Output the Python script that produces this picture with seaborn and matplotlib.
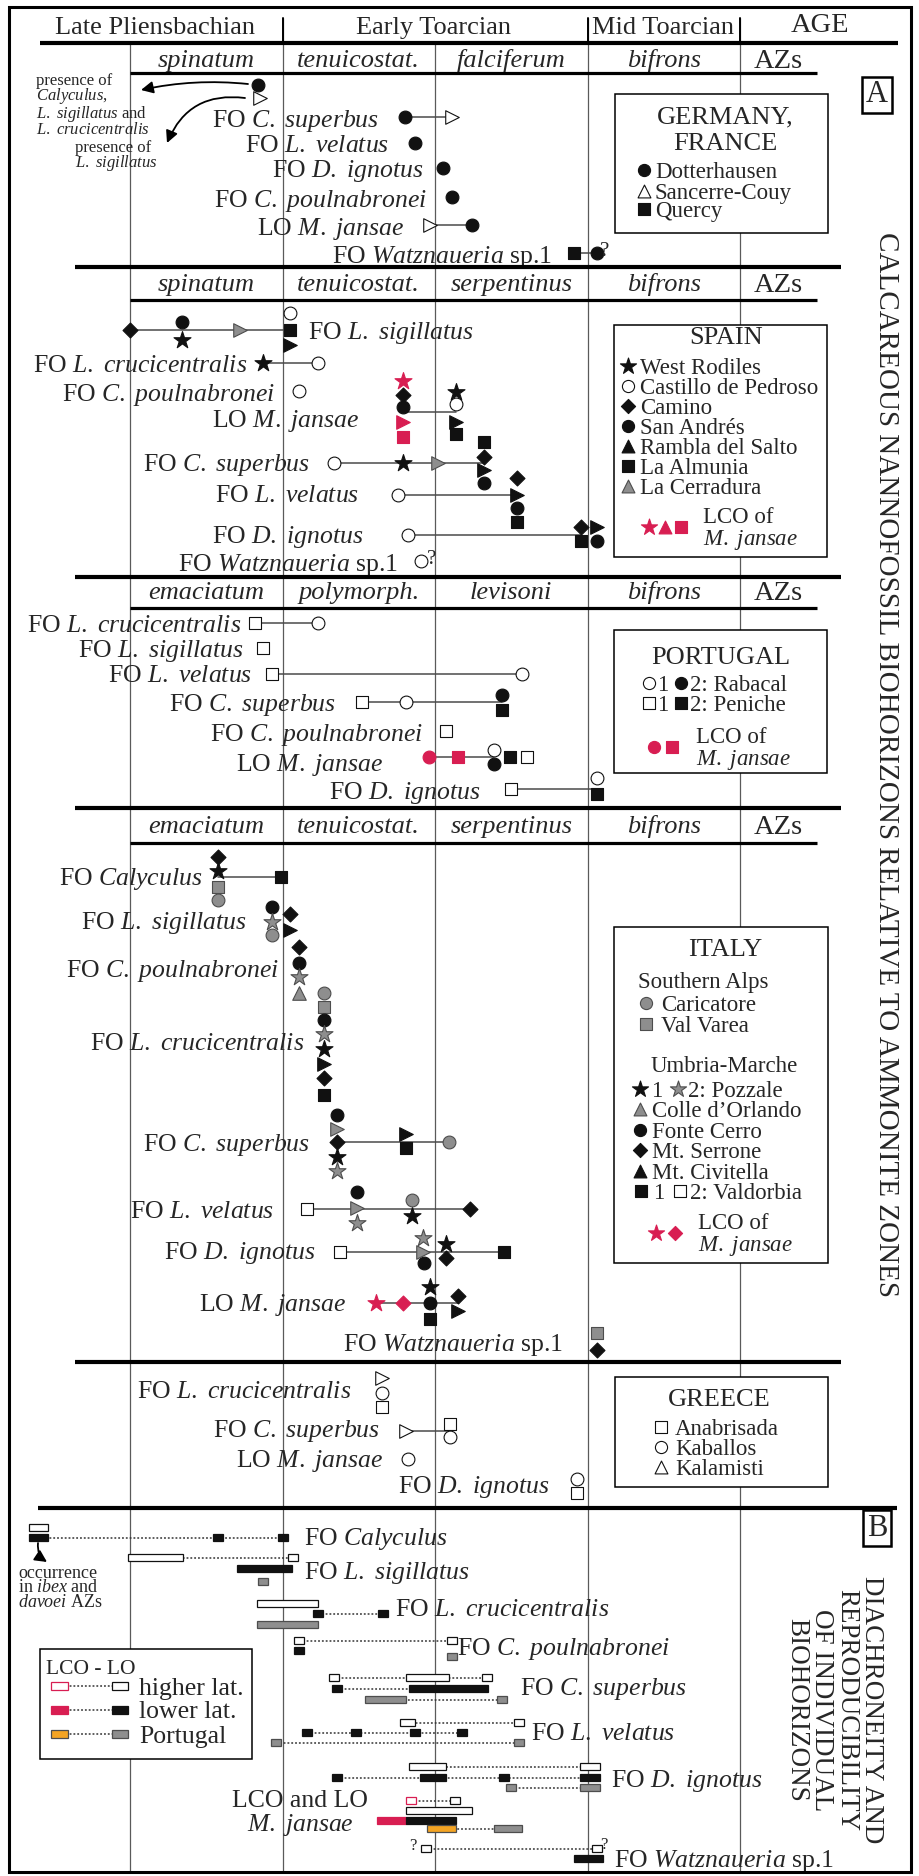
import numpy as np
import pandas as pd
import seaborn as sns
import matplotlib.pyplot as plt
from matplotlib.patches import Rectangle

sns.set_theme(style='white')
plt.rcParams['font.family'] = ['Liberation Serif', 'DejaVu Serif']
plt.rcParams['mathtext.fontset'] = 'custom'
plt.rcParams['mathtext.rm'] = 'Liberation Serif'
plt.rcParams['mathtext.it'] = 'Liberation Serif:italic'
plt.rcParams['mathtext.bf'] = 'Liberation Serif:bold'

# ---------------- data (x = position in ammonite-zone units, 0 = base of first zone) ----------------
periods = ['Late Pliensbachian', 'Early Toarcian', 'Mid Toarcian']

germany_zones = ['spinatum', 'tenuicostat.', 'falciferum', 'bifrons']
spain_zones = ['spinatum', 'tenuicostat.', 'serpentinus', 'bifrons']
portugal_zones = ['emaciatum', 'polymorph.', 'levisoni', 'bifrons']
italy_zones = ['emaciatum', 'tenuicostat.', 'serpentinus', 'bifrons']

germany_labels = ['', r'FO $\mathit{C.\ superbus}$', r'FO $\mathit{L.\ velatus}$', r'FO $\mathit{D.\ ignotus}$',
                  r'FO $\mathit{C.\ poulnabronei}$', r'LO $\mathit{M.\ jansae}$', r'FO $\mathit{Watznaueria}$ sp.1']
germany_marks = [
    [('Dotterhausen', 0.84, -0.45), ('Sancerre-Couy', 0.85, 0.5)],
    [('Dotterhausen', 1.80, 0), ('Sancerre-Couy', 2.11, 0)],
    [('Dotterhausen', 1.87, 0)],
    [('Dotterhausen', 2.05, 0)],
    [('Dotterhausen', 2.11, 0)],
    [('Sancerre-Couy', 1.97, 0), ('Dotterhausen', 2.24, 0)],
    [('Quercy', 2.91, 0), ('Dotterhausen', 3.06, 0)],
]
germany_links = [None, (1.80, 2.11), None, None, None, (1.97, 2.24), (2.91, 3.06)]

spain_labels = [r'FO $\mathit{L.\ sigillatus}$', r'FO $\mathit{L.\ crucicentralis}$', r'FO $\mathit{C.\ poulnabronei}$',
                r'LO $\mathit{M.\ jansae}$', r'FO $\mathit{C.\ superbus}$', r'FO $\mathit{L.\ velatus}$',
                r'FO $\mathit{D.\ ignotus}$', r'FO $\mathit{Watznaueria}$ sp.1']
spain_marks = [
    [('Camino', 0.00, 0), ('San Andrés', 0.34, -0.6), ('West Rodiles', 0.34, 0.7), ('La Cerradura', 0.72, 0),
     ('La Almunia', 1.05, 0), ('Castillo de Pedroso', 1.05, -1.2), ('Rambla del Salto', 1.05, 1.1)],
    [('West Rodiles', 0.87, 0), ('Castillo de Pedroso', 1.23, 0)],
    [('Castillo de Pedroso', 1.11, 0)],
    [('LCO West Rodiles', 1.79, -2.2), ('Camino', 1.79, -1.2), ('San Andrés', 1.79, -0.35),
     ('LCO Rambla del Salto', 1.79, 0.7), ('LCO La Almunia', 1.79, 1.8),
     ('West Rodiles', 2.14, -1.4), ('Castillo de Pedroso', 2.14, -0.6), ('Rambla del Salto', 2.14, 0.7),
     ('La Almunia', 2.14, 1.6)],
    [('Castillo de Pedroso', 1.34, 0), ('West Rodiles', 1.79, 0), ('La Cerradura', 2.02, 0),
     ('La Almunia', 2.32, -1.5), ('Camino', 2.32, -0.45), ('Rambla del Salto', 2.32, 0.5), ('San Andrés', 2.32, 1.45)],
    [('Castillo de Pedroso', 1.76, 0), ('Camino', 2.54, -1.2), ('Rambla del Salto', 2.54, 0),
     ('San Andrés', 2.54, 0.9), ('La Almunia', 2.54, 1.9)],
    [('Castillo de Pedroso', 1.82, 0), ('Camino', 2.96, -0.6), ('La Almunia', 2.96, 0.4),
     ('Rambla del Salto', 3.06, -0.6), ('San Andrés', 3.06, 0.4)],
    [('Castillo de Pedroso', 1.91, 0)],
]
spain_links = [(0.00, 1.05), (0.87, 1.23), None, (1.79, 2.14), (1.34, 2.32), (1.76, 2.54), (1.82, 2.96), None]

portugal_labels = [r'FO $\mathit{L.\ crucicentralis}$', r'FO $\mathit{L.\ sigillatus}$', r'FO $\mathit{L.\ velatus}$',
                   r'FO $\mathit{C.\ superbus}$', r'FO $\mathit{C.\ poulnabronei}$', r'LO $\mathit{M.\ jansae}$',
                   r'FO $\mathit{D.\ ignotus}$']
portugal_marks = [
    [('Peniche 1', 0.82, 0), ('Rabacal 1', 1.23, 0)],
    [('Peniche 1', 0.87, 0)],
    [('Peniche 1', 0.93, 0), ('Rabacal 1', 2.57, 0)],
    [('Peniche 1', 1.52, 0), ('Rabacal 1', 1.81, 0), ('Rabacal 2', 2.44, -0.5), ('Peniche 2', 2.44, 0.55)],
    [('Peniche 1', 2.07, 0)],
    [('LCO Rabacal', 1.96, 0), ('LCO Peniche', 2.15, 0), ('Rabacal 1', 2.39, -0.5), ('Rabacal 2', 2.39, 0.5),
     ('Peniche 2', 2.49, 0), ('Peniche 1', 2.60, 0)],
    [('Peniche 1', 2.50, 0), ('Rabacal 1', 3.06, -0.8), ('Peniche 2', 3.06, 0.35)],
]
portugal_links = [(0.82, 1.23), None, (0.93, 2.57), (1.52, 2.44), None, (1.96, 2.39), (2.50, 3.06)]

italy_labels = [r'FO $\mathit{Calyculus}$', r'FO $\mathit{L.\ sigillatus}$', r'FO $\mathit{C.\ poulnabronei}$',
                r'FO $\mathit{L.\ crucicentralis}$', r'FO $\mathit{C.\ superbus}$', r'FO $\mathit{L.\ velatus}$',
                r'FO $\mathit{D.\ ignotus}$', r'LO $\mathit{M.\ jansae}$', r'FO $\mathit{Watznaueria}$ sp.1']
italy_marks = [
    [('Mt. Serrone', 0.58, -1.45), ('Pozzale 1', 0.58, -0.4), ('Val Varea', 0.58, 0.7), ('Caricatore', 0.58, 1.65),
     ('Valdorbia 1', 0.99, 0)],
    [('Fonte Cerro', 0.93, -0.95), ('Pozzale 2', 0.93, 0.15), ('Caricatore', 0.93, 1.1),
     ('Mt. Serrone', 1.05, -0.45), ('Mt. Civitella', 1.05, 0.7)],
    [('Mt. Serrone', 1.11, -1.15), ('Fonte Cerro', 1.11, 0), ('Pozzale 2', 1.11, 1.0), ('Colle d’Orlando ^', 1.11, 2.15),
     ('Caricatore', 1.27, 2.15), ('Val Varea', 1.27, 3.15)],
    [('Fonte Cerro', 1.27, -1.6), ('Pozzale 2', 1.27, -0.55), ('Pozzale 1', 1.27, 0.5), ('Mt. Civitella', 1.27, 1.6),
     ('Mt. Serrone', 1.27, 2.6), ('Valdorbia 1', 1.27, 3.8)],
    [('Fonte Cerro', 1.36, -1.9), ('Colle d’Orlando', 1.36, -0.9), ('Mt. Serrone', 1.36, 0), ('Pozzale 1', 1.36, 1.1),
     ('Pozzale 2', 1.36, 2.1), ('Mt. Civitella', 1.81, -0.6), ('Valdorbia 1', 1.81, 0.4), ('Caricatore', 2.09, 0)],
    [('Valdorbia 2', 1.16, 0), ('Fonte Cerro', 1.49, -1.2), ('Colle d’Orlando', 1.49, -0.1), ('Pozzale 2', 1.49, 1.0),
     ('Caricatore', 1.85, -0.65), ('Pozzale 1', 1.85, 0.5), ('Mt. Serrone', 2.23, 0)],
    [('Valdorbia 2', 1.38, 0), ('Pozzale 2', 1.92, -1.0), ('Colle d’Orlando', 1.92, 0), ('Fonte Cerro', 1.93, 0.8),
     ('Pozzale 1', 2.07, -0.6), ('Mt. Serrone', 2.07, 0.4), ('Valdorbia 1', 2.45, 0)],
    [('LCO Pozzale', 1.61, 0), ('LCO Mt. Serrone', 1.79, 0), ('Fonte Cerro', 1.97, 0), ('Pozzale 1', 1.97, -1.15),
     ('Valdorbia 1', 1.97, 1.15), ('Mt. Serrone', 2.15, -0.5), ('Mt. Civitella', 2.15, 0.6)],
    [('Val Varea', 3.06, -0.65), ('Mt. Serrone', 3.06, 0.6)],
]
italy_links = [(0.58, 0.99), None, None, None, (1.36, 2.09), (1.16, 2.23), (1.38, 2.45), (1.61, 2.15), None]

greece_labels = [r'FO $\mathit{L.\ crucicentralis}$', r'FO $\mathit{C.\ superbus}$', r'LO $\mathit{M.\ jansae}$',
                 r'FO $\mathit{D.\ ignotus}$']
greece_marks = [
    [('Kalamisti', 1.65, -0.9), ('Kaballos', 1.65, 0.15), ('Anabrisada', 1.65, 1.15)],
    [('Kalamisti', 1.81, 0), ('Anabrisada', 2.10, -0.5), ('Kaballos', 2.10, 0.45)],
    [('Kaballos', 1.82, 0)],
    [('Kaballos', 2.93, -0.5), ('Anabrisada', 2.93, 0.5)],
]
greece_links = [None, (1.81, 2.10), None, None]

# panel B: ranges per biohorizon, rows of (stack slot, [(group, start, end)]); start == end -> single level
b_labels = [r'FO $\mathit{Calyculus}$', r'FO $\mathit{L.\ sigillatus}$', r'FO $\mathit{L.\ crucicentralis}$',
            r'FO $\mathit{C.\ poulnabronei}$', r'FO $\mathit{C.\ superbus}$', r'FO $\mathit{L.\ velatus}$',
            r'FO $\mathit{D.\ ignotus}$', '', r'FO $\mathit{Watznaueria}$ sp.1']
b_rows = [
    [(-0.7, [('high', -0.66, -0.54)]), (0.3, [('low', -0.66, -0.54), ('low', 0.58, 0.58), ('low', 1.00, 1.00)])],
    [(-1.1, [('high', -0.01, 0.35), ('high', 1.07, 1.07)]), (0, [('low', 0.70, 1.06)]), (1.3, [('port', 0.87, 0.87)])],
    [(-1, [('high', 0.83, 1.23)]), (0, [('low', 1.23, 1.23), ('low', 1.66, 1.66)]), (1.1, [('port', 0.83, 1.23)])],
    [(-0.5, [('high', 1.11, 1.11), ('high', 2.11, 2.11)]), (0.5, [('low', 1.11, 1.11)]), (1.1, [('port', 2.11, 2.11)])],
    [(-1.1, [('high', 1.34, 1.34), ('high', 1.81, 2.09), ('high', 2.34, 2.34)]),
     (0, [('low', 1.36, 1.36), ('low', 1.83, 2.35)]),
     (1.1, [('port', 1.54, 1.81), ('port', 2.44, 2.44)])],
    [(-1, [('high', 1.77, 1.87), ('high', 2.55, 2.55)]),
     (0, [('low', 1.16, 1.16), ('low', 1.48, 1.48), ('low', 1.87, 1.87), ('low', 2.18, 2.18)]),
     (1, [('port', 0.96, 0.96), ('port', 2.55, 2.55)])],
    [(-1.1, [('high', 1.83, 2.07), ('high', 2.95, 3.08)]),
     (0, [('low', 1.36, 1.36), ('low', 1.90, 2.07), ('low', 2.45, 2.45), ('low', 2.95, 3.08)]),
     (1, [('port', 2.50, 2.50), ('port', 2.95, 3.08)])],
    [(-1, [('high_lco', 1.84, 1.84), ('high', 2.13, 2.13)]), (0, [('high', 1.81, 2.24)]),
     (1, [('low_lco', 1.62, 1.81), ('low', 1.81, 2.14)]), (1.8, [('port_lco', 1.95, 2.14), ('port', 2.39, 2.57)])],
    [(-0.8, [('high', 1.94, 1.94), ('high', 3.06, 3.06)]), (0.2, [('low', 2.91, 3.10)])],
]

# ---------------- layout / styles ----------------
X0, ZW = 130, 152.5          # pixel x of zone 0, pixels per zone
STEP = 14                    # stacking step for panel A symbols
B_STEP = 10
BLACK, GRAY, GEDGE, RED, ORANGE = '#111111', '#8e8e8e', '#4d4d4d', '#d81e52', '#f4a423'
LINK = '#4a4a4a'

SITE_STYLE = {
    'Dotterhausen': ('o', BLACK, BLACK), 'Sancerre-Couy': ('>', 'white', BLACK), 'Quercy': ('s', BLACK, BLACK),
    'West Rodiles': ('*', BLACK, BLACK), 'Castillo de Pedroso': ('o', 'white', BLACK), 'Camino': ('D', BLACK, BLACK),
    'San Andrés': ('o', BLACK, BLACK), 'Rambla del Salto': ('>', BLACK, BLACK), 'La Almunia': ('s', BLACK, BLACK),
    'La Cerradura': ('>', GRAY, GEDGE),
    'LCO West Rodiles': ('*', RED, RED), 'LCO Rambla del Salto': ('>', RED, RED), 'LCO La Almunia': ('s', RED, RED),
    'Rabacal 1': ('o', 'white', BLACK), 'Rabacal 2': ('o', BLACK, BLACK),
    'Peniche 1': ('s', 'white', BLACK), 'Peniche 2': ('s', BLACK, BLACK),
    'LCO Rabacal': ('o', RED, RED), 'LCO Peniche': ('s', RED, RED),
    'Caricatore': ('o', GRAY, GEDGE), 'Val Varea': ('s', GRAY, GEDGE),
    'Pozzale 1': ('*', BLACK, BLACK), 'Pozzale 2': ('*', GRAY, GEDGE),
    'Colle d’Orlando': ('>', GRAY, GEDGE), 'Colle d’Orlando ^': ('^', GRAY, GEDGE),
    'Fonte Cerro': ('o', BLACK, BLACK), 'Mt. Serrone': ('D', BLACK, BLACK), 'Mt. Civitella': ('>', BLACK, BLACK),
    'Valdorbia 1': ('s', BLACK, BLACK), 'Valdorbia 2': ('s', 'white', BLACK),
    'LCO Pozzale': ('*', RED, RED), 'LCO Mt. Serrone': ('D', RED, RED),
    'Anabrisada': ('s', 'white', BLACK), 'Kaballos': ('o', 'white', BLACK), 'Kalamisti': ('>', 'white', BLACK),
}
MSIZE = {'o': 85, 's': 80, 'D': 58, '>': 95, '^': 95, '*': 165}
B_STYLE = {'high': ('white', BLACK), 'low': (BLACK, BLACK), 'port': (GRAY, GEDGE),
           'high_lco': ('white', RED), 'low_lco': (RED, RED), 'port_lco': (ORANGE, GEDGE)}

FS_HEAD, FS_ZONE, FS_LAB, FS_LT, FS_LEG, FS_SM = 19, 19, 18.5, 19, 16.5, 12.5


def P(px):
    return (px - X0) / ZW


fig = plt.figure(figsize=(9.19, 18.76), dpi=100)
ax = fig.add_axes([0, 0, 1, 1])
ax.axis('off')

# frame
ax.add_patch(Rectangle((P(9), 7), 902 / ZW, 1865, fc='none', ec='black', lw=2.2, zorder=6, clip_on=False))

# zone boundaries
for z in range(5):
    top = 18 if z in (1, 3, 4) else 43
    ax.plot([z, z], [top, 1871], color='#5a5a5a', lw=0.9, zorder=1)
for z in (1, 3, 4):
    ax.plot([z, z], [18, 43], color='black', lw=1.4, zorder=1)


def hline(y, x0, x1, lw):
    ax.plot([P(x0), P(x1)], [y, y], color='black', lw=lw, solid_capstyle='butt', zorder=4)


# header
for txt, cx in zip(periods, [155, 433, 663]):
    ax.text(P(cx), 28, txt, ha='center', va='center', fontsize=FS_HEAD)
ax.text(P(820), 26, 'AGE', ha='center', va='center', fontsize=20.5)
hline(43, 40, 898, 3)


def az_row(zones, ytxt, yline):
    for k, name in enumerate(zones):
        ax.text(k + 0.5, ytxt, name, ha='center', va='center', fontsize=FS_ZONE, style='italic')
    ax.text(P(778), ytxt, 'AZs', ha='center', va='center', fontsize=20.5)
    hline(yline, 130, 817, 2.3)


az_row(germany_zones, 61, 73)
az_row(spain_zones, 285, 300)
az_row(portugal_zones, 593, 608)
az_row(italy_zones, 827, 843)
for y in (267, 577, 808, 1362):
    hline(y, 75, 841, 3)
hline(1508, 38, 897, 3)

records = []


def draw_panel(labels, marks, links, rows_y, label_y, label_x, label_ha=None):
    for i, (lab, mk, ln, ry) in enumerate(zip(labels, marks, links, rows_y)):
        if ln is not None:
            ax.plot(ln, [ry, ry], color=LINK, lw=1.1, zorder=2)
        for site, z, slot in mk:
            records.append({'site': site, 'z': z, 'y': ry + slot * STEP})
        if lab:
            ha = label_ha[i] if label_ha else 'right'
            ax.text(P(label_x[i]), label_y[i], lab, ha=ha, va='center_baseline', fontsize=FS_LAB, zorder=3)


draw_panel(germany_labels, germany_marks, germany_links,
           [91, 117, 143, 168, 197, 225, 253], [91, 117, 143, 168, 197, 225, 253],
           [0, 379, 389, 423, 427, 404, 552])
draw_panel(spain_labels, spain_marks, spain_links,
           [330, 363, 391, 412, 463, 495, 535, 561], [330, 363, 391, 417, 462, 494, 534, 561],
           [308, 247, 275, 359, 310, 359, 363, 398], ['left'] + ['right'] * 7)
draw_panel(portugal_labels, portugal_marks, portugal_links,
           [623, 648, 674, 702, 731, 757, 789], [623, 648, 674, 702, 731, 761, 789],
           [241, 244, 252, 336, 423, 383, 480])
draw_panel(italy_labels, italy_marks, italy_links,
           [877, 920, 963, 1042, 1142, 1209, 1252, 1303, 1342], [875, 920, 967, 1042, 1142, 1209, 1249, 1302, 1342],
           [203, 247, 279, 304, 310, 274, 315, 346, 563])
draw_panel(greece_labels, greece_marks, greece_links,
           [1391, 1431, 1459, 1486], [1390, 1428, 1457, 1484], [351, 380, 383, 549])

df = pd.DataFrame(records)
for site, sub in df.groupby('site', sort=False):
    m, fc, ec = SITE_STYLE[site]
    sns.scatterplot(data=sub, x='z', y='y', marker=m, s=MSIZE[m], color=fc, edgecolor=ec,
                    linewidth=0.8, zorder=3, legend=False, ax=ax)

# question marks
for xpx, y in [(600, 252), (427, 560)]:
    ax.text(P(xpx), y, '?', ha='left', va='center', fontsize=15)

# presence notes (Germany), one text block each
ax.text(P(36), 73, 'presence of\n$\\mathit{Calyculus}$,\n$\\mathit{L.\\ sigillatus}$ and\n$\\mathit{L.\\ crucicentralis}$',
        ha='left', va='top', fontsize=12, linespacing=0.82)
ax.text(P(75), 140, 'presence of\n$\\mathit{L.\\ sigillatus}$', ha='left', va='top', fontsize=12, linespacing=0.82)
arrow = dict(arrowstyle='-|>', color='black', lw=1.3, mutation_scale=18, shrinkA=0, shrinkB=0)
ax.annotate('', xy=(P(141), 90), xytext=(P(248), 84), arrowprops={**arrow, 'connectionstyle': 'arc3,rad=0.08'})
ax.annotate('', xy=(P(167), 143), xytext=(P(245), 98), arrowprops={**arrow, 'connectionstyle': 'arc3,rad=0.38'})


# legend boxes
def box(x0, y0, x1, y1):
    ax.add_patch(Rectangle((P(x0), y0), (x1 - x0) / ZW, y1 - y0, fc='white', ec='black', lw=1.1, zorder=5))


def lmark(m, fc, ec, xpx, y, s=None):
    ax.scatter([P(xpx)], [y], marker=m, s=s or MSIZE[m] * 0.9, c=fc, edgecolors=ec, linewidths=0.8, zorder=6)


def ltext(xpx, y, txt, ha='left', fs=FS_LEG):
    ax.text(P(xpx), y, txt, ha=ha, va='center_baseline', fontsize=fs, zorder=6)


box(615, 94, 828, 233)
ltext(725, 115, 'GERMANY,', 'center', FS_LT)
ltext(725, 142, 'FRANCE', 'center', FS_LT)
for (m, fc), txt, y in zip([('o', BLACK), ('^', 'white'), ('s', BLACK)],
                           ['Dotterhausen', 'Sancerre-Couy', 'Quercy'], [170, 191, 209]):
    lmark(m, fc, BLACK, 644, y)
    ltext(655, y, txt)

box(614, 325, 827, 557)
ltext(726, 336, 'SPAIN', 'center', FS_LT)
for (m, fc, ec), txt, y in zip([('*', BLACK, BLACK), ('o', 'white', BLACK), ('D', BLACK, BLACK), ('o', BLACK, BLACK),
                                ('^', BLACK, BLACK), ('s', BLACK, BLACK), ('^', GRAY, GEDGE)],
                               ['West Rodiles', 'Castillo de Pedroso', 'Camino', 'San Andrés', 'Rambla del Salto',
                                'La Almunia', 'La Cerradura'], [366, 386, 406, 426, 446, 466, 486]):
    lmark(m, fc, ec, 628, y)
    ltext(640, y, txt)
for m, xpx in [('*', 649), ('^', 665), ('s', 681)]:
    lmark(m, RED, RED, xpx, 527)
ltext(703, 515, 'LCO of')
ltext(703, 537, r'$\mathit{M.\ jansae}$')

box(614, 630, 827, 773)
ltext(721, 655, 'PORTUGAL', 'center', FS_LT)
for m, txt, y in [('o', '2: Rabacal', 683), ('s', '2: Peniche', 703)]:
    lmark(m, 'white', BLACK, 649, y)
    ltext(657, y, '1')
    lmark(m, BLACK, BLACK, 681, y)
    ltext(690, y, txt)
lmark('o', RED, RED, 654, 747)
lmark('s', RED, RED, 672, 747)
ltext(696, 735, 'LCO of')
ltext(696, 757, r'$\mathit{M.\ jansae}$')

box(614, 927, 828, 1263)
ltext(725, 947, 'ITALY', 'center', FS_LT)
ltext(703, 980, 'Southern Alps', 'center')
lmark('o', GRAY, GEDGE, 646, 1003)
ltext(661, 1003, 'Caricatore')
lmark('s', GRAY, GEDGE, 646, 1024)
ltext(661, 1024, 'Val Varea')
ltext(724, 1064, 'Umbria-Marche', 'center')
lmark('*', BLACK, BLACK, 640, 1089)
ltext(651, 1089, '1')
lmark('*', GRAY, GEDGE, 678, 1089)
ltext(688, 1089, '2: Pozzale')
for (m, fc, ec), txt, y in zip([('^', GRAY, GEDGE), ('o', BLACK, BLACK), ('D', BLACK, BLACK), ('^', BLACK, BLACK)],
                               ['Colle d’Orlando', 'Fonte Cerro', 'Mt. Serrone', 'Mt. Civitella'],
                               [1109, 1130, 1150, 1171]):
    lmark(m, fc, ec, 640, y)
    ltext(652, y, txt)
lmark('s', BLACK, BLACK, 641, 1191)
ltext(653, 1191, '1')
lmark('s', 'white', BLACK, 680, 1191)
ltext(690, 1191, '2: Valdorbia')
lmark('*', RED, RED, 656, 1233)
lmark('D', RED, RED, 675, 1233)
ltext(698, 1221, 'LCO of')
ltext(698, 1242, r'$\mathit{M.\ jansae}$')

box(615, 1377, 828, 1487)
ltext(719, 1397, 'GREECE', 'center', FS_LT)
for m, txt, y in [('s', 'Anabrisada', 1427), ('o', 'Kaballos', 1447), ('^', 'Kalamisti', 1467)]:
    lmark(m, 'white', BLACK, 661, y)
    ltext(675, y, txt)

# panel letters and vertical titles
for letter, y in [('A', 95), ('B', 1528)]:
    ax.text(P(877), y, letter, ha='center', va='center', fontsize=22, zorder=6,
            bbox=dict(boxstyle='square,pad=0.12', fc='white', ec='black', lw=1.8))
ax.text(P(886), 765, 'CALCAREOUS NANNOFOSSIL BIOHORIZONS RELATIVE TO AMMONITE ZONES', rotation=-90,
        ha='center', va='center', fontsize=21)
ax.text(P(834), 1710, 'DIACHRONEITY AND\nREPRODUCIBILITY\nOF INDIVIDUAL\nBIOHORIZONS', rotation=-90,
        ha='center', va='center', multialignment='center', fontsize=19.5, linespacing=1.0)

# ---------------- panel B ----------------
SQ = 10 / ZW
b_row_y = [1535, 1569, 1614, 1646, 1689, 1733, 1778, 1811, 1857]
b_label_x = [304, 304, 395, 457, 520, 531, 611, 0, 614]
b_label_y = [1535, 1569, 1608, 1646, 1686, 1731, 1777, 0, 1857]
DOT = (0, (1.2, 1.3))


def b_item(g, a, b, y, h=7):
    fc, ec = B_STYLE[g]
    if b > a:
        ax.barh(y, b - a, left=a, height=h, color=fc, edgecolor=ec, linewidth=0.9, zorder=3)
    else:
        ax.barh(y, SQ, left=a - SQ / 2, height=h, color=fc, edgecolor=ec, linewidth=0.9, zorder=3)


for lab, rows, ry, lx, ly in zip(b_labels, b_rows, b_row_y, b_label_x, b_label_y):
    for slot, items in rows:
        y = ry + slot * B_STEP
        centers = [(a + b) / 2 for _, a, b in items]
        if len(items) > 1:
            ax.plot([min(centers), max(centers)], [y, y], ls=DOT, color='#333333', lw=1.1, zorder=2)
        for g, a, b in items:
            b_item(g, a, b, y)
    if lab:
        ax.text(P(lx), ly, lab, ha='left', va='center_baseline', fontsize=FS_LAB)
ax.text(P(300), 1814, 'LCO and LO\n$\\mathit{M.\\ jansae}$', ha='center', va='center', fontsize=FS_LAB,
        linespacing=0.95)
ax.text(P(417), 1846, '?', ha='right', va='center', fontsize=12)
ax.text(P(600), 1845, '?', ha='left', va='center', fontsize=12)

ax.text(P(18), 1565, 'occurrence\nin $\\mathit{ibex}$ and\n$\\mathit{davoei}$ AZs', ha='left', va='top',
        fontsize=13, linespacing=0.8)
ax.annotate('', xy=(P(47), 1562), xytext=(P(38), 1543), arrowprops={**arrow, 'connectionstyle': 'arc3,rad=0.3'})

box(40, 1649, 252, 1759)
ltext(46, 1667, 'LCO - LO', fs=15.5)
for g1, g2, txt, y in [('high_lco', 'high', 'higher lat.', 1686), ('low_lco', 'low', 'lower lat.', 1710),
                       ('port_lco', 'port', 'Portugal', 1734)]:
    ax.plot([P(62), P(118)], [y, y], ls=DOT, color='#333333', lw=1.1, zorder=6)
    for g, x0, x1 in [(g1, 51, 68), (g2, 112, 128)]:
        fc, ec = B_STYLE[g]
        ax.barh(y, (x1 - x0) / ZW, left=P(x0), height=8, color=fc, edgecolor=ec, linewidth=0.9, zorder=7)
    ax.text(P(139), y, txt, ha='left', va='center_baseline', fontsize=FS_LAB, zorder=7)

ax.set_xlim(P(0), P(919))
ax.set_ylim(1876, 0)
ax.axis('off')
fig.savefig('out.png', dpi=100)
